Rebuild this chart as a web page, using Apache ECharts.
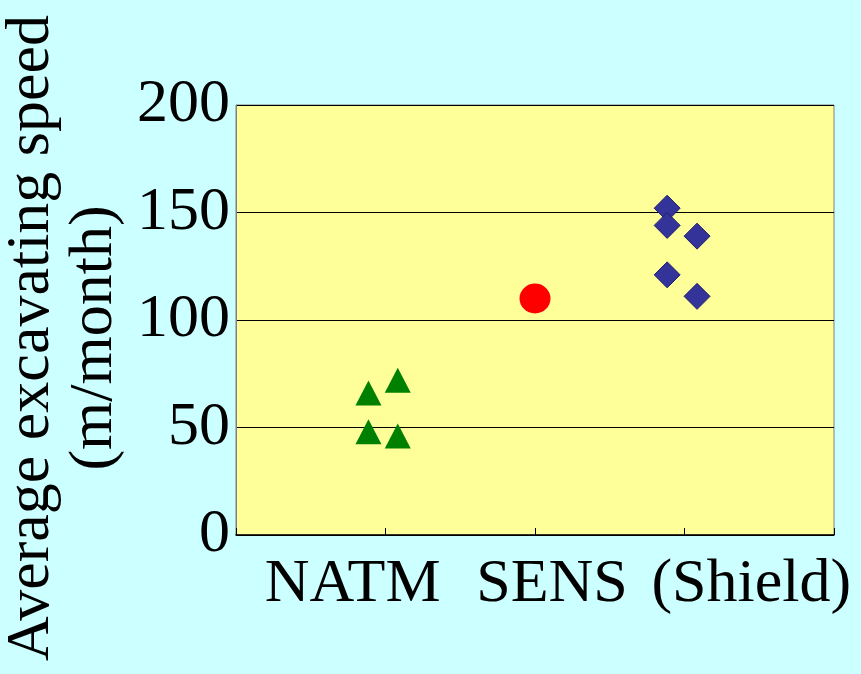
<!DOCTYPE html>
<html>
<head>
<meta charset="utf-8">
<script src="https://cdn.jsdelivr.net/npm/echarts@6/dist/echarts.min.js"></script>
<style>
html,body{margin:0;padding:0;background:#CCFFFF;}
#chart{width:861px;height:674px;}
</style>
</head>
<body>
<div id="chart"></div>
<script>
// Data
var categories = ['NATM', 'SENS', '(Shield)'];
var natmX = [0.886, 0.886, 1.082, 1.082];
var natmY = [66, 48, 72, 46];
var sensX = [2.0];
var sensY = [110];
var shieldX = [2.884, 2.884, 2.884, 3.084, 3.084];
var shieldY = [152, 144, 121, 139, 111];
var yTicks = [0, 50, 100, 150, 200];
var yTitle = 'Average excavating speed\n(m/month)';

function pairs(xs, ys) { return xs.map(function (x, i) { return [x, ys[i]]; }); }

var font = "'Times New Roman', 'Liberation Serif', 'DejaVu Serif', serif";
var chart = echarts.init(document.getElementById('chart'), null, {renderer: 'canvas'});
chart.setOption({
  backgroundColor: '#CCFFFF',
  animation: false,
  grid: {
    left: 236, top: 105, right: 27, bottom: 139,
    outerBoundsMode: 'none', containLabel: false,
    show: true, backgroundColor: '#FFFF99', borderColor: '#808080', borderWidth: 1
  },
  xAxis: [{
    type: 'value', min: 0, max: 4, interval: 1, position: 'bottom',
    axisLine: {show: true, onZero: false, lineStyle: {color: '#000', width: 1.5}},
    axisTick: {show: true, inside: true, length: 7, lineStyle: {color: '#000', width: 1}},
    axisLabel: {show: false},
    splitLine: {show: false}
  }, {
    type: 'category', data: categories, position: 'bottom', boundaryGap: true,
    axisLine: {show: false}, axisTick: {show: false}, splitLine: {show: false},
    axisLabel: {
      show: true, interval: 0, hideOverlap: false, color: '#000', fontFamily: font, fontSize: 62, margin: 19,
      padding: [0, 0, 0, 34]
    }
  }],
  yAxis: {
    type: 'value', min: yTicks[0], max: yTicks[yTicks.length - 1], interval: 50,
    axisLine: {show: true, lineStyle: {color: '#808080', width: 1}},
    axisTick: {show: false},
    splitLine: {show: true, lineStyle: {color: '#000', width: 1}},
    axisLabel: {color: '#000', fontFamily: font, fontSize: 62, margin: 6},
    name: yTitle, nameLocation: 'middle', nameRotate: 90, nameGap: 98,
    nameTextStyle: {color: '#000', fontFamily: font, fontSize: 62, lineHeight: 63, padding: [0, 36, 0, 0]}
  },
  series: [{
    type: 'scatter', xAxisIndex: 0, data: pairs(natmX, natmY),
    symbol: 'triangle', symbolSize: [26, 25],
    itemStyle: {color: '#008000', opacity: 1}
  }, {
    type: 'scatter', xAxisIndex: 0, data: pairs(sensX, sensY),
    symbol: 'circle', symbolSize: [31, 30],
    itemStyle: {color: '#FF0000', opacity: 1}
  }, {
    type: 'scatter', xAxisIndex: 0, data: pairs(shieldX, shieldY),
    symbol: 'diamond', symbolSize: [26, 26],
    itemStyle: {color: '#333399', borderColor: '#22226e', borderWidth: 1, opacity: 1}
  }]
});
</script>
</body>
</html>
